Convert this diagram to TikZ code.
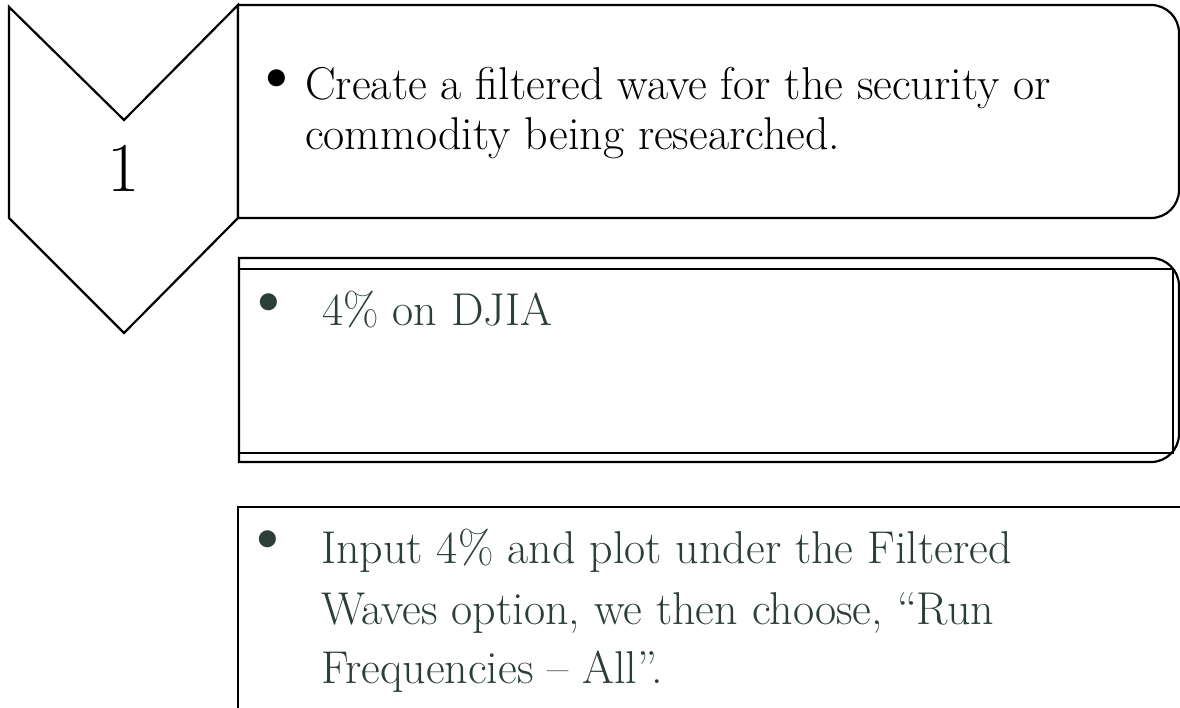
\documentclass[tikz,border=0pt]{standalone}
\usepackage{fontspec}
\definecolor{slate}{RGB}{44,62,58}
\tikzset{
  shapeline/.style={draw=black, line width=2.2pt, fill=white, line join=miter},
  thinline/.style={draw=black, line width=2pt},
  bigtext/.style={font=\fontsize{46}{50}\selectfont, inner sep=0pt, anchor=base west},
  bul/.style={font=\fontsize{76}{80}\selectfont, inner sep=0pt, anchor=center}
}
\begin{document}
\begin{tikzpicture}[x=1pt,y=-1pt]
\useasboundingbox (0,0) rectangle (1180,708);
\clip (0,0) rectangle (1180,708);
\fill[white] (0,0) rectangle (1180,708);
% chevron
\draw[shapeline] (9,7) -- (124,120) -- (238,5) -- (238,218) -- (124,333) -- (9,218) -- cycle;
\node[font=\fontsize{70}{70}\selectfont, anchor=base, inner sep=0pt] (num) at (124,192) {1};
% box 1
\draw[shapeline] (238,5) -- (1151,5) arc[start angle=-90,end angle=0,radius=28]
  -- (1179,190) arc[start angle=0,end angle=90,radius=28] -- (238,218) -- cycle;
\node[bul] (b1) at (277,84) {\textbullet};
\node[bigtext] (t1a) at (305,100) {Create a filtered wave for the security or};
\node[bigtext] (t1b) at (305,150) {commodity being researched.};
% box 2
\draw[shapeline] (239,258) -- (1151,258) arc[start angle=-90,end angle=0,radius=28]
  -- (1179,434) arc[start angle=0,end angle=90,radius=28] -- (239,462) -- cycle;
\draw[thinline] (239,269) rectangle (1173,453);
\node[bul, text=slate] (b2) at (269,308) {\textbullet};
\node[bigtext, text=slate] (t2) at (322,326) {4\% on DJIA};
% box 3
\draw[shapeline, fill=none] (1190,507) -- (238,507) -- (238,720);
\node[bul, text=slate] (b3) at (268,545) {\textbullet};
\node[bigtext, text=slate] (t3a) at (321,563) {Input 4\% and plot under the Filtered};
\node[bigtext, text=slate] (t3b) at (321,624) {Waves option, we then choose, “Run};
\node[bigtext, text=slate] (t3c) at (321,683) {Frequencies – All”.};
\end{tikzpicture}
\end{document}
